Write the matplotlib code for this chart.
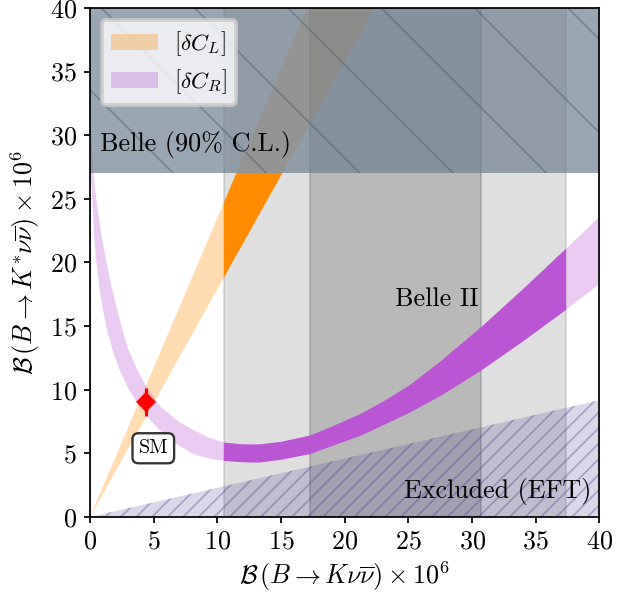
import numpy as np
import matplotlib
matplotlib.use('Agg')
import matplotlib.pyplot as plt
from matplotlib.patches import Rectangle

plt.rcParams['font.family'] = 'serif'
plt.rcParams['font.serif'] = ['cmr10']
plt.rcParams['mathtext.fontset'] = 'cm'
plt.rcParams['axes.formatter.use_mathtext'] = True
plt.rcParams['hatch.linewidth'] = 0.45

# Belle II measurement bands and Belle upper limit (x 10^6)
belle2_1sig = [17.3, 30.7]
belle2_2sig = [10.5, 37.4]
belle_limit = 27.0
ax_max = 40

# [dC_L] cone: straight lines through the origin
cone_x = [0, 40]
cone_lo = [0, 71.6]
cone_hi = [0, 94.0]

# EFT excluded region boundary
eft_x = [0, 40]
eft_y = [0, 9.18]
eft_edge_x = [0, 0]
eft_edge_y = [0, belle_limit]

# [dC_R] band, outer (lower) and inner (upper) edge
cr_outer_x = [0.0, 0.03, 0.08, 0.16, 0.3, 0.47, 0.8, 1.26, 1.8, 2.3, 3.1, 4.0, 5.0,
              6.0, 7.0, 8.1, 9.3, 10.5, 12.0, 13.3, 15.0, 17.3, 19.0, 21.2, 23.0,
              25.1, 27.5, 30.7, 34.0, 37.4, 40.0]
cr_outer_y = [33.0, 30.0, 27.4, 25.0, 22.4, 20.3, 17.5, 15.0, 13.0, 11.6, 9.9, 8.55,
              7.3, 6.3, 5.6, 4.95, 4.6, 4.41, 4.3, 4.28, 4.5, 4.95, 5.58, 6.37, 7.2,
              8.2, 9.5, 11.5, 13.8, 16.3, 18.3]
cr_inner_x = [0.0, 0.05, 0.12, 0.26, 0.4, 0.6, 0.9, 1.3, 1.6, 2.0, 2.5, 3.0, 3.7, 4.4,
              5.5, 7.0, 8.1, 9.3, 10.5, 12.0, 13.3, 15.0, 17.3, 19.0, 21.2, 23.0,
              25.1, 27.5, 30.7, 34.0, 37.4, 40.0]
cr_inner_y = [35.0, 31.5, 29.5, 27.4, 25.7, 24.3, 22.1, 20.0, 18.5, 16.8, 14.9, 13.2,
              11.6, 10.3, 8.7, 7.45, 6.85, 6.25, 5.85, 5.7, 5.7, 5.9, 6.4, 7.1, 8.07,
              9.05, 10.35, 12.2, 14.9, 17.9, 21.1, 23.6]

# Standard Model point
sm_k = 4.4
sm_kstar = 9.07
sm_kstar_err = 1.1

fig = plt.figure(figsize=(637 / 280, 596 / 280), dpi=280)
ax = fig.add_axes([0.1413, 0.1326, 0.7998, 0.8540])

ax.axvspan(belle2_2sig[0], belle2_2sig[1], color='gray', alpha=0.25, lw=0.5, zorder=0)
ax.axvspan(belle2_1sig[0], belle2_1sig[1], color='gray', alpha=0.4, lw=0.5, zorder=0)

# C_L cone
ax.fill_between(cone_x, cone_lo, cone_hi, color='darkorange', alpha=0.3, lw=0,
                label=r'$[\delta C_L]$', zorder=1)
cl_dark = ax.fill_between(cone_x, cone_lo, cone_hi, color='darkorange', lw=0, zorder=2)
cl_dark.set_clip_path(Rectangle((belle2_2sig[0], 0), belle2_2sig[1] - belle2_2sig[0],
                                belle_limit, transform=ax.transData))

# C_R band
band_x = cr_outer_x + cr_inner_x[::-1]
band_y = cr_outer_y + cr_inner_y[::-1]
ax.fill(band_x, band_y, color='mediumorchid', alpha=0.3, lw=0,
        label=r'$[\delta C_R]$', zorder=1)
cr_dark = ax.fill(band_x, band_y, color='mediumorchid', lw=0, zorder=2)[0]
cr_dark.set_clip_path(Rectangle((belle2_2sig[0], 0), belle2_2sig[1] - belle2_2sig[0],
                                ax_max, transform=ax.transData))

# excluded by EFT
ax.fill_between(eft_x, 0, eft_y, facecolor=(0.28, 0.24, 0.55, 0.2),
                edgecolor=(0.28, 0.24, 0.55, 0.35), hatch='//////', lw=0, zorder=3)
ax.plot(eft_edge_x, eft_edge_y, ls=(0, (2, 1.5)), color='#2b4a6f', lw=0.4, zorder=3)

# Belle limit
ax.axhspan(belle_limit, ax_max, facecolor=(112 / 255, 128 / 255, 144 / 255, 0.7),
           edgecolor=(0.30, 0.37, 0.44, 0.45), hatch='\\', lw=0, zorder=4)

# SM
ax.plot([sm_k], [sm_kstar], 'D', color='red', ms=4.0, alpha=0.2, mew=0, zorder=6)
ax.errorbar([sm_k], [sm_kstar], yerr=[sm_kstar_err], fmt='D', color='red', ms=2.5,
            elinewidth=0.8, capsize=0, zorder=7)
ax.text(sm_k + 0.57, 5.4, 'SM', ha='center', va='center', fontsize=5.2, zorder=7,
        bbox=dict(boxstyle='round,pad=0.3', fc='white', ec='#333333', lw=0.6))

ax.text(0.8, 29.25, 'Belle (90% C.L.)', ha='left', va='center', fontsize=6.7, zorder=6)
ax.text(30.5, 17.1, 'Belle II', ha='right', va='center', fontsize=6.7, zorder=6)
ax.text(39.4, 2.0, 'Excluded (EFT)', ha='right', va='center', fontsize=6.7, zorder=6)

ax.set_xlim(0, ax_max)
ax.set_ylim(0, ax_max)
ax.set_xticks(np.arange(0, 41, 5))
ax.set_yticks(np.arange(0, 41, 5))
ax.tick_params(direction='out', length=1.6, width=0.45, labelsize=6.7, pad=1.8)
for s in ax.spines.values():
    s.set_linewidth(0.45)
    s.set_zorder(8)

ax.set_xlabel(r'$\mathcal{B}\,(B\to K\nu\overline{\nu})\times 10^6$', fontsize=6.7, labelpad=1.5)
ax.set_ylabel(r'$\mathcal{B}\,(B\to K^{*}\nu\overline{\nu})\times 10^6$', fontsize=6.7, labelpad=2)

ax.legend(loc='upper left', fontsize=6.0, handlelength=2.0, handleheight=0.7,
          handletextpad=0.7, labelspacing=0.4, framealpha=0.8)

fig.savefig('out.png', dpi=280)
